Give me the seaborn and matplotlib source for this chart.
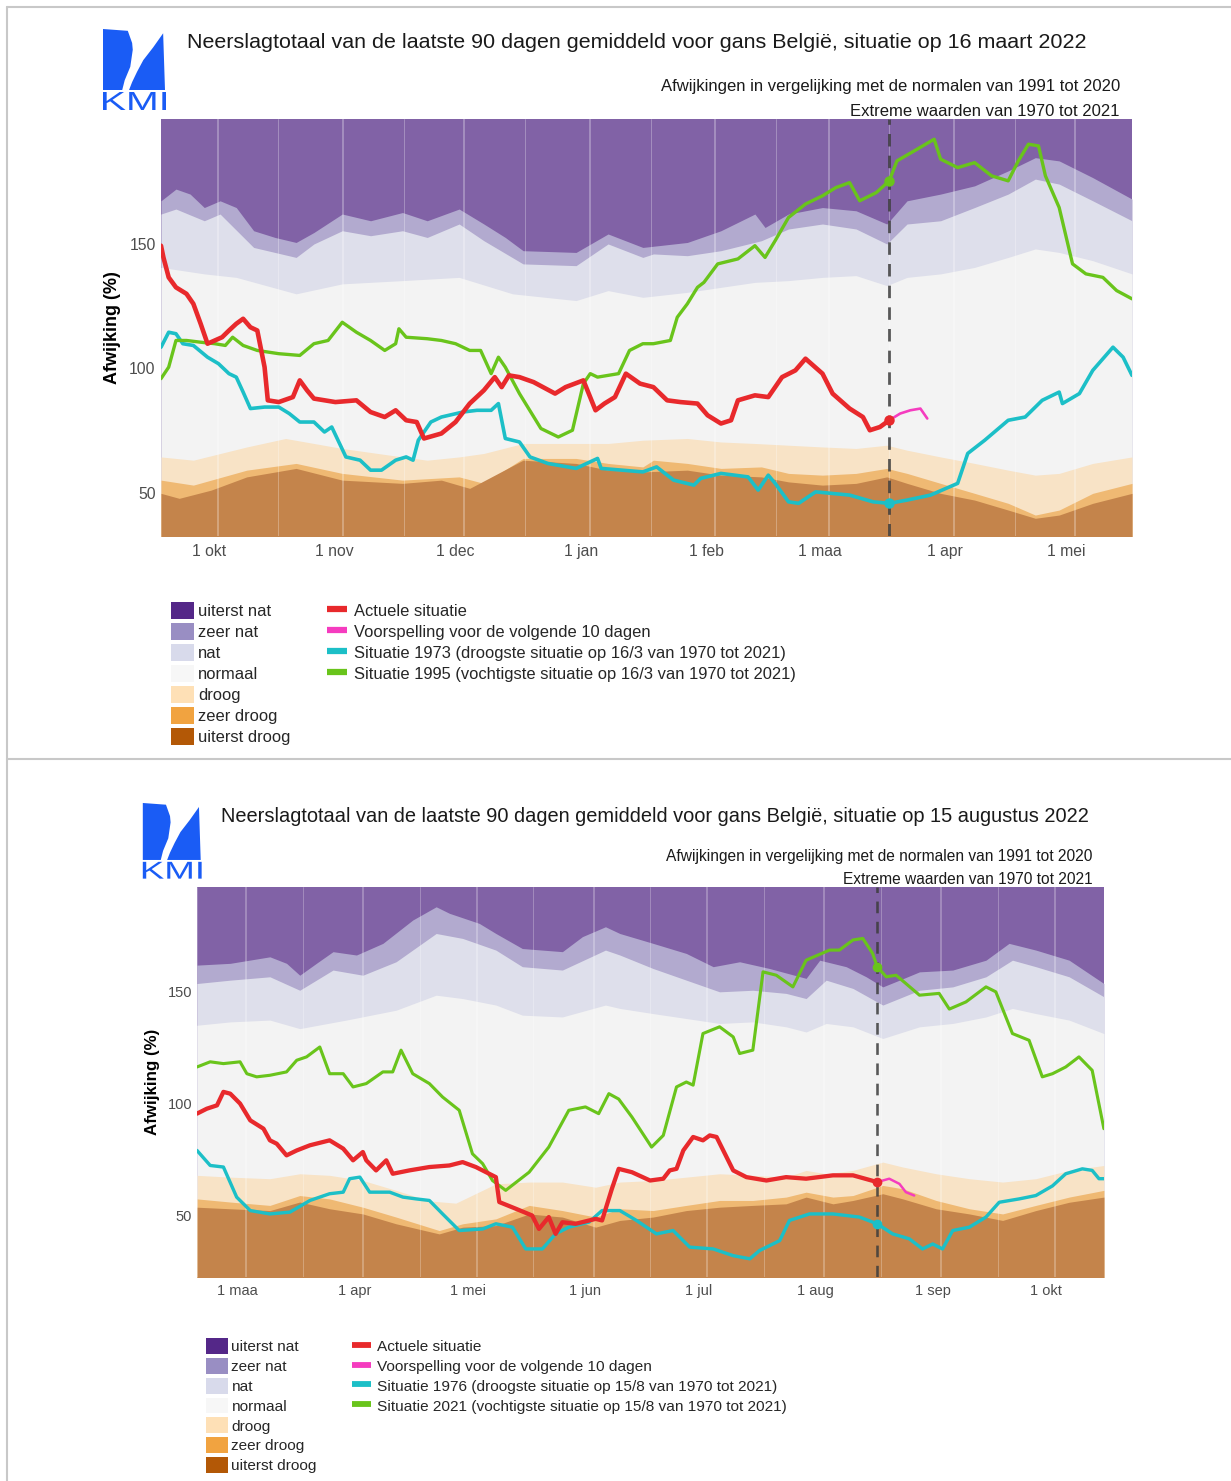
import matplotlib
matplotlib.use("Agg")
import matplotlib.pyplot as plt
import matplotlib.dates as mdates
from matplotlib.colors import to_rgb
from matplotlib.font_manager import FontProperties
from matplotlib.lines import Line2D
from matplotlib.patches import Patch, PathPatch, Polygon
from matplotlib.textpath import TextPath
from matplotlib.ticker import FuncFormatter
from matplotlib.transforms import Affine2D, IdentityTransform, ScaledTranslation
import pandas as pd
import seaborn as sns


#data: days after start of window (date - 180 days), values in % of normal
#---------------------------------------------------------------------------

maanden = ["jan", "feb", "maa", "apr", "mei", "jun", "jul", "aug", "sep", "okt", "nov", "dec"]
klassen = ["uiterst nat", "zeer nat", "nat", "normaal", "droog", "zeer droog", "uiterst droog"]
klasse_kleuren = ["#542788", "#998ec3", "#d8daeb", "#f7f7f7", "#fee0b6", "#f1a340", "#b35806"]

# 16 maart 2022 - upper limits of the classes (zeer nat ... uiterst droog)
mrt_b6_d = [0, 3.7, 7.2, 10.7, 14.6, 18.6, 22.9, 28.2, 33.4, 37.8, 44.8, 51.8, 59.7, 65.8, 73.7, 79.8, 85.1, 89.5, 102.6, 110.5,
            119.1, 130.1, 138.4, 146.8, 149.3, 155.1, 163.5, 171.8, 179.4, 184.4, 192.7, 201.1, 209.4, 216.1, 222.0, 230.3, 240]
mrt_b6_v = [167.2, 171.9, 169.9, 164.5, 167.2, 164.5, 155.2, 152.5, 150.5, 154.5, 161.9, 159.2, 162.5, 159.2, 163.9, 157.9, 152.5, 147.2, 146.5, 153.9,
            148.5, 150.5, 155.2, 161.9, 156.5, 161.9, 164.5, 163.2, 157.9, 167.2, 169.9, 173.2, 179.2, 184.5, 183.2, 176.5, 167.9]
mrt_b5_d = [0, 3.7, 10.7, 14.6, 22.9, 33.4, 37.8, 44.8, 51.8, 59.7, 65.8, 73.7, 79.8, 89.5, 102.6, 110.5, 119.1, 121.7, 130.1, 138.4,
            148.4, 155.1, 163.5, 171.8, 179.4, 184.4, 192.7, 201.1, 209.4, 216.1, 222.0, 230.3, 240]
mrt_b5_v = [161.9, 163.9, 159.2, 161.9, 148.5, 144.5, 149.9, 155.2, 153.2, 155.2, 152.5, 157.9, 151.2, 141.9, 141.2, 149.9, 144.5, 145.9, 145.2, 147.2,
            151.2, 155.9, 157.9, 155.9, 149.9, 157.9, 159.2, 164.5, 169.9, 175.9, 173.9, 167.2, 159.2]
mrt_b4_d = [0, 10.7, 18.6, 33.4, 44.8, 59.7, 73.7, 86.9, 102.6, 110.5, 119.1, 130.1, 138.4, 146.8, 155.1, 163.5, 171.8, 179.4, 184.4, 192.7,
            201.1, 209.4, 216.1, 222.0, 230.3, 240]
mrt_b4_v = [140.5, 137.9, 136.5, 129.9, 133.9, 135.2, 136.5, 129.9, 127.2, 131.2, 128.5, 130.5, 132.5, 134.5, 135.2, 136.5, 137.2, 133.2, 136.5, 137.9,
            140.5, 144.5, 147.9, 146.5, 143.2, 137.9]
mrt_b3_d = [0, 8.0, 21.2, 30.8, 37.8, 44.8, 59.7, 65.8, 73.7, 79.8, 89.5, 102.6, 110.5, 119.1, 130.1, 138.4, 146.8, 155.1, 163.5, 171.8,
            179.4, 184.4, 192.7, 201.1, 209.4, 216.1, 222.0, 230.3, 240]
mrt_b3_v = [64.5, 63.2, 68.5, 71.9, 69.9, 67.9, 64.5, 63.2, 64.5, 65.9, 69.9, 69.9, 69.9, 71.2, 71.9, 70.5, 69.9, 69.2, 68.5, 67.9,
            69.2, 67.2, 64.5, 61.9, 59.2, 57.2, 57.9, 61.9, 64.5]
mrt_b2_d = [0, 8.0, 21.2, 33.4, 44.8, 59.7, 73.7, 79.8, 89.5, 102.6, 110.5, 119.1, 121.7, 130.1, 138.4, 148.4, 155.1, 163.5, 171.8, 179.4,
            184.4, 192.7, 201.1, 209.4, 216.1, 222.0, 230.3, 240]
mrt_b2_v = [55.2, 53.2, 59.2, 61.9, 57.9, 55.2, 56.5, 53.9, 63.9, 63.9, 61.9, 60.5, 63.2, 61.9, 59.9, 60.5, 57.9, 57.2, 57.9, 59.9,
            57.9, 53.9, 49.9, 45.9, 41.2, 43.2, 49.9, 53.9]
mrt_b1_d = [0, 4.5, 12.4, 21.2, 33.4, 44.8, 59.7, 69.3, 76.3, 89.5, 102.6, 110.5, 119.1, 130.1, 138.4, 148.4, 155.1, 163.5, 171.8, 179.4,
            184.4, 192.7, 201.1, 209.4, 216.1, 222.0, 230.3, 240]
mrt_b1_v = [49.9, 47.9, 51.2, 56.5, 59.9, 55.2, 53.9, 55.2, 51.9, 63.2, 61.9, 59.2, 58.5, 59.2, 57.2, 56.5, 54.5, 53.2, 53.9, 56.5,
            53.9, 49.9, 47.2, 43.2, 39.9, 41.2, 45.9, 49.9]

mrt_rood_d = [0, 0.6, 1.9, 3.7, 6.3, 8.0, 9.8, 11.5, 13.3, 15.1, 16.8, 18.6, 20.3, 22.1, 23.8, 25.6, 26.4, 29.1, 32.6, 34.3,
              36.1, 37.8, 43.1, 48.3, 51.8, 55.3, 58.0, 60.6, 63.2, 65.0, 69.3, 72.8, 76.3, 79.8, 82.5, 84.2, 86.0, 88.6, 92.1, 97.4,
              100.0, 104.4, 107.4, 109.6, 112.2, 114.9, 118.4, 121.7, 125.1, 128.4, 132.6, 135.1, 138.4, 140.9, 142.6, 146.8, 150.1, 153.5, 156.8, 159.3,
              163.5, 166.0, 170.2, 173.5, 175.2, 177.7, 180]
mrt_rood_v = [149.2, 144.5, 136.5, 132.5, 129.9, 125.9, 117.9, 109.9, 111.2, 112.5, 115.2, 117.9, 119.9, 116.5, 115.2, 100.5, 87.2, 86.5, 88.5, 95.2,
              91.2, 87.9, 86.5, 87.2, 82.5, 80.5, 83.2, 79.2, 78.5, 71.9, 73.9, 78.5, 85.9, 91.2, 96.5, 92.5, 97.2, 96.5, 94.5, 89.9,
              92.5, 95.2, 83.2, 85.9, 88.5, 97.9, 93.9, 92.5, 87.2, 86.5, 85.9, 81.2, 77.9, 79.2, 87.2, 89.2, 88.5, 96.5, 99.2, 103.9,
              97.9, 89.9, 83.9, 80.5, 75.2, 76.5, 79.2]
mrt_voorsp_d = [180, 182.7, 185.2, 187.7, 189.4]
mrt_voorsp_v = [79.2, 81.9, 83.2, 83.9, 79.9]
mrt_droog_d = [0, 1.9, 3.7, 5.4, 8.0, 11.5, 14.2, 16.8, 18.6, 20.3, 22.1, 25.6, 29.1, 31.7, 34.3, 37.8, 40.4, 42.2, 45.7, 49.2,
               51.8, 54.5, 58.0, 60.6, 62.3, 63.6, 66.7, 69.3, 74.6, 78.1, 81.6, 83.4, 85.1, 88.6, 91.2, 95.6, 102.6, 107.9, 108.8, 119.1,
               122.5, 126.7, 131.7, 133.4, 138.4, 145.1, 147.6, 150.1, 151.8, 155.1, 157.6, 161.8, 170.2, 176.0, 180.0, 184.4, 190.2, 196.9, 199.4, 203.6,
               209.4, 213.6, 217.8, 222.0, 222.8, 227.0, 230.3, 235.3, 237.8, 240]
mrt_droog_v = [108.5, 114.5, 113.9, 109.9, 109.2, 104.5, 101.9, 97.9, 96.5, 90.5, 83.9, 84.5, 84.5, 81.9, 78.5, 78.5, 74.5, 76.5, 64.5, 63.2,
               59.2, 59.2, 63.2, 64.5, 63.2, 71.2, 78.5, 80.5, 82.5, 83.2, 83.2, 85.9, 71.9, 70.5, 64.5, 61.9, 59.9, 63.9, 59.9, 58.5,
               60.5, 55.2, 53.2, 55.9, 57.9, 56.5, 51.2, 57.2, 53.9, 46.5, 45.9, 50.5, 49.2, 46.5, 45.9, 47.2, 49.2, 53.9, 65.9, 71.2,
               79.2, 80.5, 87.2, 90.5, 85.9, 89.9, 99.2, 108.5, 104.5, 97.2]
mrt_nat_d = [0, 1.9, 3.7, 6.3, 9.8, 13.3, 15.9, 17.7, 20.3, 23.8, 29.1, 34.3, 37.8, 41.3, 44.8, 48.3, 51.8, 55.3, 58.0, 58.8,
             60.6, 65.8, 69.3, 72.8, 76.3, 79.0, 81.6, 83.4, 85.1, 88.6, 93.9, 98.2, 101.7, 104.4, 106.1, 107.9, 113.1, 115.8, 119.1, 121.7,
             125.9, 127.6, 130.1, 132.6, 134.2, 137.6, 142.6, 146.8, 149.3, 151.8, 155.1, 159.3, 163.5, 166.8, 170.2, 172.7, 176.8, 180.0, 181.9, 186.9,
             191.1, 192.7, 196.9, 201.1, 205.3, 209.4, 211.9, 214.4, 216.9, 218.6, 222.0, 225.3, 228.6, 232.8, 236.2, 240]
mrt_nat_v = [95.9, 100.5, 111.2, 111.2, 110.5, 109.9, 109.2, 112.5, 109.2, 107.2, 105.9, 105.2, 109.9, 111.2, 118.5, 114.5, 111.2, 107.2, 109.9, 115.9,
             112.5, 111.9, 111.2, 109.9, 107.2, 107.2, 97.9, 104.5, 100.5, 89.9, 75.9, 72.5, 75.2, 93.9, 97.9, 96.5, 97.9, 107.2, 109.9, 109.9,
             111.2, 120.5, 125.9, 132.5, 134.5, 141.9, 143.9, 149.2, 144.5, 151.2, 160.5, 165.9, 169.2, 172.5, 174.5, 167.2, 170.5, 175.2, 183.2, 187.9,
             191.9, 183.9, 180.5, 182.5, 177.2, 175.2, 183.2, 189.9, 189.2, 177.2, 164.5, 141.9, 137.9, 136.5, 131.2, 127.9]

# 15 augustus 2022
aug_b6_d = [0, 8.8, 19.3, 23.7, 27.2, 31.6, 36.0, 42.2, 49.2, 57.1, 63.3, 66.8, 74.7, 79.1, 86.1, 96.7, 102.0, 108.1, 111.9, 120.7,
            129.5, 136.6, 143.6, 151.5, 161.2, 164.8, 171.8, 177.1, 181.5, 185.9, 191.2, 200.0, 208.8, 214.9, 222.0, 230.8, 240]
aug_b6_v = [161.6, 162.4, 165.3, 162.4, 157.1, 162.4, 167.6, 166.1, 171.3, 181.7, 187.6, 184.7, 180.2, 175.7, 169.0, 167.6, 174.3, 178.7, 175.7, 171.3,
            166.8, 160.9, 163.1, 160.1, 155.7, 163.8, 160.9, 156.4, 151.9, 154.9, 158.6, 159.4, 163.8, 171.3, 168.3, 163.8, 153.4]
aug_b5_d = [0, 8.8, 19.3, 27.2, 36.0, 43.9, 52.7, 63.3, 70.3, 79.1, 86.1, 96.7, 108.1, 111.9, 120.7, 129.5, 138.3, 147.1, 155.9, 161.2,
            166.5, 173.6, 181.5, 191.2, 200.0, 208.8, 215.8, 222.0, 230.8, 240]
aug_b5_v = [153.4, 154.9, 156.4, 150.4, 159.4, 157.1, 163.1, 175.7, 173.5, 168.3, 160.9, 159.4, 168.3, 166.1, 160.1, 154.9, 149.7, 150.4, 149.0, 146.7,
            154.9, 151.2, 143.8, 150.4, 151.9, 156.4, 163.8, 160.9, 156.4, 147.5]
aug_b4_d = [0, 8.8, 19.3, 27.2, 39.5, 52.7, 63.3, 70.3, 79.1, 86.1, 96.7, 108.1, 111.9, 120.7, 129.5, 138.3, 147.1, 155.9, 161.2, 166.5,
            173.6, 181.5, 191.2, 200.0, 208.8, 215.8, 222.0, 230.8, 240]
aug_b4_v = [134.8, 136.3, 137.1, 133.3, 137.1, 141.5, 148.2, 146.7, 143.8, 139.3, 138.5, 143.8, 142.3, 140.0, 137.8, 135.6, 136.3, 134.1, 131.8, 135.6,
            134.1, 128.9, 134.1, 135.6, 138.5, 142.3, 140.0, 137.1, 131.1]
aug_b3_d = [0, 8.8, 19.3, 27.2, 35.1, 43.9, 52.7, 61.5, 68.5, 79.1, 87.9, 96.7, 105.5, 111.9, 120.7, 129.5, 138.3, 147.1, 155.9, 161.2,
            166.5, 173.6, 181.5, 186.8, 195.6, 204.4, 213.2, 222.0, 230.8, 240]
aug_b3_v = [67.9, 67.1, 66.4, 68.6, 67.9, 65.6, 61.2, 56.5, 55.5, 64.1, 64.9, 64.9, 62.6, 64.9, 65.6, 67.1, 68.6, 67.9, 67.1, 70.1,
            68.6, 70.1, 73.8, 71.6, 68.6, 66.4, 64.9, 66.4, 70.1, 72.3]
aug_b2_d = [0, 8.8, 19.3, 27.2, 35.1, 43.9, 52.7, 64.1, 70.3, 79.1, 87.9, 96.7, 105.5, 111.9, 120.7, 129.5, 138.3, 147.1, 155.9, 161.2,
            168.3, 173.6, 181.5, 186.8, 195.6, 204.4, 213.2, 222.0, 230.8, 240]
aug_b2_v = [57.4, 56.0, 54.5, 58.9, 57.4, 53.7, 49.3, 43.3, 46.3, 48.5, 54.5, 52.2, 49.3, 53.0, 52.2, 54.5, 56.7, 56.7, 58.2, 60.4,
            58.2, 58.9, 63.4, 61.9, 56.7, 53.0, 50.7, 54.5, 58.2, 61.2]
aug_b1_d = [0, 8.8, 19.3, 27.2, 35.1, 43.9, 52.7, 64.1, 70.3, 79.1, 87.9, 96.7, 105.5, 111.9, 120.7, 129.5, 138.3, 147.1, 155.9, 161.2,
            168.3, 173.6, 181.5, 186.8, 195.6, 204.4, 213.2, 222.0, 230.8, 240]
aug_b1_v = [53.7, 53.0, 52.2, 56.0, 53.0, 50.7, 46.3, 41.8, 44.8, 45.5, 50.7, 49.3, 44.8, 47.8, 49.3, 52.2, 53.7, 54.5, 55.2, 58.2,
            55.2, 56.7, 59.7, 57.4, 53.0, 50.7, 47.8, 52.2, 55.9, 58.2]

aug_rood_d = [0, 2.6, 5.3, 7.0, 8.8, 11.4, 14.1, 17.6, 19.3, 21.1, 23.7, 26.4, 29.9, 35.1, 38.7, 41.3, 43.9, 44.8, 47.4, 50.1,
              51.8, 56.2, 61.5, 66.8, 70.3, 73.8, 79.1, 80.0, 84.4, 88.7, 90.5, 93.1, 94.9, 96.7, 100.2, 105.5, 107.2, 109.8, 111.6, 115.1,
              119.9, 123.4, 125.1, 126.9, 128.7, 131.3, 133.9, 135.7, 137.5, 141.9, 145.4, 150.7, 155.9, 161.2, 168.3, 173.6, 180]
aug_rood_v = [95.4, 97.6, 99.1, 105.1, 104.3, 99.9, 92.4, 88.7, 83.5, 82.0, 76.8, 79.0, 81.3, 83.5, 79.8, 74.6, 78.3, 74.6, 70.1, 74.6,
              68.6, 70.1, 71.6, 72.3, 73.8, 71.6, 67.1, 56.0, 53.0, 50.0, 44.0, 49.3, 41.8, 47.0, 46.3, 48.5, 47.8, 61.9, 70.8, 69.3,
              65.6, 66.4, 70.1, 70.8, 79.0, 85.0, 83.5, 85.7, 85.0, 70.1, 67.1, 65.6, 67.1, 66.4, 67.9, 67.9, 64.9]
aug_voorsp_d = [180, 183.2, 185.9, 187.6, 189.8]
aug_voorsp_v = [64.9, 66.4, 64.1, 60.4, 58.9]
aug_droog_d = [0, 3.5, 7.0, 10.5, 14.1, 19.3, 24.6, 29.9, 35.1, 38.7, 40.4, 43.1, 45.7, 51.0, 54.5, 58.0, 61.5, 65.0, 69.4, 75.6,
               79.1, 83.5, 87.0, 91.4, 94.9, 98.4, 103.7, 107.2, 111.9, 116.3, 121.6, 126.0, 130.4, 136.6, 141.9, 146.3, 148.9, 154.2, 156.8, 162.1,
               168.3, 175.3, 180.0, 184.1, 188.5, 192.0, 194.7, 197.3, 200.0, 204.4, 208.8, 212.3, 217.6, 222.0, 226.4, 229.9, 234.3, 236.9, 238.7, 240]
aug_droog_v = [79.0, 72.3, 71.6, 58.2, 52.2, 50.7, 51.5, 56.7, 59.7, 60.4, 66.4, 67.1, 60.4, 60.4, 58.2, 57.4, 56.7, 50.7, 43.3, 44.0,
               46.3, 44.8, 35.1, 35.1, 41.8, 44.8, 47.0, 52.2, 52.2, 47.8, 41.8, 43.3, 35.9, 35.1, 32.1, 30.7, 34.4, 38.8, 47.8, 50.7,
               50.7, 49.3, 46.3, 41.8, 39.6, 35.1, 37.3, 35.1, 43.3, 44.8, 49.3, 55.9, 57.4, 58.9, 63.2, 68.6, 70.8, 70.1, 66.4, 66.4]
aug_nat_d = [0, 3.5, 7.0, 11.4, 13.2, 15.8, 19.3, 23.7, 26.4, 29.0, 32.5, 35.1, 38.7, 41.3, 44.8, 49.2, 51.8, 54.0, 57.1, 61.5,
             65.0, 69.4, 72.9, 75.6, 78.2, 81.7, 87.9, 93.1, 98.4, 102.8, 106.3, 109.0, 111.6, 115.1, 120.3, 123.4, 126.9, 129.5, 131.3, 133.9,
             138.3, 141.9, 143.6, 147.1, 149.8, 153.3, 157.7, 161.2, 167.4, 170.0, 173.6, 176.2, 178.8, 180.0, 182.4, 185.0, 187.6, 191.2, 196.4, 199.1,
             203.5, 208.8, 211.4, 215.8, 220.2, 223.7, 226.4, 229.9, 233.4, 236.9, 240]
aug_nat_v = [116.2, 118.5, 117.7, 118.5, 113.2, 111.8, 112.5, 114.0, 119.2, 120.7, 125.1, 113.2, 113.2, 107.3, 108.8, 114.0, 114.0, 123.7, 113.2, 108.8,
             102.8, 96.9, 77.5, 73.1, 65.6, 61.2, 69.3, 80.5, 96.9, 98.4, 95.4, 104.3, 101.9, 93.9, 80.5, 85.7, 107.3, 109.5, 108.1, 131.1,
             134.1, 129.6, 122.2, 123.7, 158.6, 157.1, 151.9, 163.8, 168.3, 168.3, 172.8, 173.5, 166.8, 160.9, 156.4, 157.1, 153.4, 148.2, 149.0, 142.0,
             145.2, 151.9, 149.7, 131.1, 128.1, 111.8, 113.2, 116.2, 120.7, 114.7, 88.7]


W, H = 1231, 1481
PANEEL_BG = "#EBEBEB"
ROOD, ROZE, CYAAN, GROEN = "#E8292C", "#F53CBF", "#1CBFC7", "#69C41B"
KMI_BLAUW = "#1A5CF5"


def meng(kleur, alpha=0.7):
    # class colours are drawn with alpha 0.7 over the grey panel
    c, b = to_rgb(kleur), to_rgb(PANEEL_BG)
    return tuple(alpha * ci + (1 - alpha) * bi for ci, bi in zip(c, b))


def teken_paneel(fig, s, ox, oy, datum, ylim, grenzen, rood, voorsp, droog, nat,
                 titel, jaar_droog, jaar_nat, dag_kort):
    # layout is given in pixels of the upper panel; the lower one is a scaled copy
    def P(x, y):
        return (ox + s * x) / W, 1 - (oy + s * y) / H

    x0, y0 = P(161, 536)
    x1, y1 = P(1132, 119)
    ax = fig.add_axes([x0, y0, x1 - x0, y1 - y0])
    start = datum - pd.Timedelta(days=180)

    def dag(d):
        return start + pd.to_timedelta(d, unit="D")

    # class bands, painted from wet (top) to dry (bottom)
    vlak = [meng(k) for k in klasse_kleuren]
    ax.set_facecolor(vlak[0])
    for (d, v), kleur in zip(grenzen, vlak[1:]):
        ax.fill_between(dag(d), ylim[0] - 20, v, color=kleur, lw=0, zorder=1)

    ax.set_xlim(start, start + pd.Timedelta(days=240))
    ax.set_ylim(*ylim)
    ax.xaxis.set_major_locator(mdates.MonthLocator(bymonthday=1))
    ax.xaxis.set_minor_locator(mdates.MonthLocator(bymonthday=16))
    ax.xaxis.set_major_formatter(FuncFormatter(
        lambda x, pos: "1 " + maanden[mdates.num2date(x).month - 1]))
    ax.set_yticks([50, 100, 150])
    for t in ax.get_xticks():
        ax.axvline(t, color="white", alpha=0.3, lw=1.3 * s, zorder=1.5)
    for t in ax.get_xticks(minor=True):
        ax.axvline(t, color="white", alpha=0.3, lw=0.65 * s, zorder=1.5)

    ax.axvline(datum, color="#3C3C3C", alpha=0.85, lw=2.0 * s,
               ls=(0, (4.5, 3.3)), zorder=2.5)

    sns.lineplot(x=dag(droog[0]), y=droog[1], ax=ax, color=CYAAN, linewidth=2.6 * s, zorder=3)
    sns.lineplot(x=dag(nat[0]), y=nat[1], ax=ax, color=GROEN, linewidth=2.4 * s, zorder=3)
    sns.lineplot(x=dag(voorsp[0]), y=voorsp[1], ax=ax, color=ROZE, linewidth=1.9 * s, zorder=3.2)
    sns.lineplot(x=dag(rood[0]), y=rood[1], ax=ax, color=ROOD, linewidth=3.3 * s, zorder=3.4)

    for reeks, kleur in [(droog, CYAAN), (nat, GROEN), (rood, ROOD)]:
        v = reeks[1][reeks[0].index(180)]
        ax.plot([datum], [v], "o", ms=7.5 * s, color=kleur, mec="none", zorder=4)

    for sp in ax.spines.values():
        sp.set_visible(False)
    ax.tick_params(axis="both", which="both", length=2.3 * s, width=0.8 * s,
                   color="#333333", labelcolor="#4D4D4D", labelsize=11.3 * s)
    ax.tick_params(axis="x", pad=3.5 * s)
    ax.tick_params(axis="y", pad=1.5 * s)
    ax.set_xlabel("")
    ax.set_ylabel("Afwijking (%)", fontsize=13 * s, fontweight="bold", color="black")
    ax.yaxis.set_label_coords(-0.041, 0.5)

    # titles
    fig.text(*P(187, 43), titel, ha="left", va="center", fontsize=15.45 * s, color="#1A1A1A")
    fig.text(*P(1120, 86), "Afwijkingen in vergelijking met de normalen van 1991 tot 2020",
             ha="right", va="center", fontsize=12 * s, color="#1A1A1A")
    fig.text(*P(1120, 111), "Extreme waarden van 1970 tot 2021",
             ha="right", va="center", fontsize=12 * s, color="#1A1A1A")

    # KMI logo
    links = [(0, 0), (0.40, 0.03), (0.47, 0.23), (0.48, 0.34), (0.44, 0.62), (0.35, 0.84), (0.31, 1), (0, 1)]
    rechts = [(0.97, 0.07), (1, 1), (0.42, 1), (0.47, 0.87), (0.55, 0.70), (0.65, 0.51), (0.81, 0.30)]
    for vorm in (links, rechts):
        pts = [P(103 + 62 * u, 29 + 61 * v) for u, v in vorm]
        fig.add_artist(Polygon(pts, closed=True, transform=fig.transFigure,
                               facecolor=KMI_BLAUW, edgecolor="none"))
    # wide lettering "KMI" squeezed into its box (x 103..166, y 92..110)
    tp = TextPath((0, 0), "KMI", size=20, prop=FontProperties(family="Liberation Sans"))
    bb = tp.get_extents()
    (bx0, by0), (bx1, by1) = P(103, 110), P(166, 92)
    schaal = Affine2D().translate(-bb.x0, -bb.y0).scale(
        (bx1 - bx0) * W / bb.width, (by1 - by0) * H / bb.height).translate(bx0 * W, by0 * H)
    fig.add_artist(PathPatch(schaal.transform_path(tp), transform=IdentityTransform(),
                             facecolor=KMI_BLAUW, edgecolor="none"))

    # legends
    fs = 11.9 * s
    klasse_handles = [Patch(facecolor=k, edgecolor="none") for k in klasse_kleuren]
    fig.legend(klasse_handles, klassen, loc="upper left", bbox_to_anchor=P(171, 602),
               frameon=False, fontsize=fs, handlelength=1.39, handleheight=1.2,
               handletextpad=0.24, labelspacing=0.24, borderpad=0, borderaxespad=0)
    lijn_handles = [Line2D([], [], color=k, lw=4.5 * s, solid_capstyle="butt")
                    for k in (ROOD, ROZE, CYAAN, GROEN)]
    lijn_labels = ["Actuele situatie",
                   "Voorspelling voor de volgende 10 dagen",
                   f"Situatie {jaar_droog} (droogste situatie op {dag_kort} van 1970 tot 2021)",
                   f"Situatie {jaar_nat} (vochtigste situatie op {dag_kort} van 1970 tot 2021)"]
    fig.legend(lijn_handles, lijn_labels, loc="upper left", bbox_to_anchor=P(327, 602),
               frameon=False, fontsize=fs, handlelength=1.21, handleheight=1.2,
               handletextpad=0.42, labelspacing=0.24, borderpad=0, borderaxespad=0)
    return ax


sns.set_style("white")
plt.rcParams["font.family"] = ["Liberation Sans", "DejaVu Sans"]

fig = plt.figure(figsize=(W / 100, H / 100), dpi=100)

ax_mrt = teken_paneel(
    fig, 1.0, 0, 0, pd.Timestamp("2022-03-16"), (32.8, 200.0),
    [(mrt_b6_d, mrt_b6_v), (mrt_b5_d, mrt_b5_v), (mrt_b4_d, mrt_b4_v),
     (mrt_b3_d, mrt_b3_v), (mrt_b2_d, mrt_b2_v), (mrt_b1_d, mrt_b1_v)],
    (mrt_rood_d, mrt_rood_v), (mrt_voorsp_d, mrt_voorsp_v),
    (mrt_droog_d, mrt_droog_v), (mrt_nat_d, mrt_nat_v),
    "Neerslagtotaal van de laatste 90 dagen gemiddeld voor gans België, situatie op 16 maart 2022",
    1973, 1995, "16/3")
ax_aug = teken_paneel(
    fig, 0.934, 46.6, 775.9, pd.Timestamp("2022-08-15"), (22.8, 196.4),
    [(aug_b6_d, aug_b6_v), (aug_b5_d, aug_b5_v), (aug_b4_d, aug_b4_v),
     (aug_b3_d, aug_b3_v), (aug_b2_d, aug_b2_v), (aug_b1_d, aug_b1_v)],
    (aug_rood_d, aug_rood_v), (aug_voorsp_d, aug_voorsp_v),
    (aug_droog_d, aug_droog_v), (aug_nat_d, aug_nat_v),
    "Neerslagtotaal van de laatste 90 dagen gemiddeld voor gans België, situatie op 15 augustus 2022",
    1976, 2021, "15/8")

# light grey frame around the two panels
for xs, ys in [([7, 7], [7, H]), ([7, W], [7, 7]), ([7, W], [759, 759])]:
    fig.add_artist(Line2D([x / W for x in xs], [1 - y / H for y in ys],
                          transform=fig.transFigure, color="#C8C8C8", lw=1.5))

# month labels sit a little left of their tick in the original
fig.canvas.draw()
for ax, s in [(ax_mrt, 1.0), (ax_aug, 0.934)]:
    for lbl in ax.get_xticklabels():
        lbl.set_transform(lbl.get_transform() + ScaledTranslation(-9 * s / 100, 0, fig.dpi_scale_trans))

fig.savefig("out.png", dpi=100)
